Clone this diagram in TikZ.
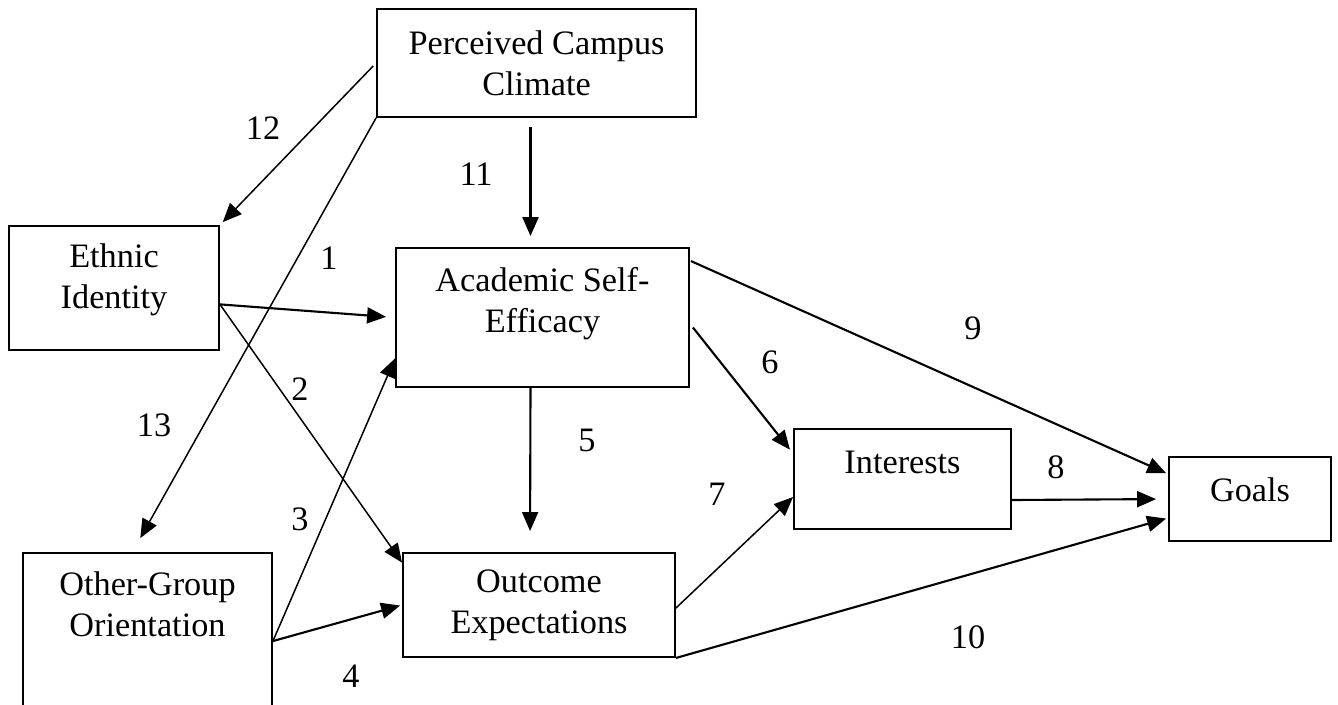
\documentclass[tikz,border=0pt]{standalone}
\usepackage{fontspec}
\setmainfont{Liberation Serif}
\usetikzlibrary{arrows.meta, positioning, calc}

\begin{document}
\begin{tikzpicture}[
    x=0.02cm, y=-0.02cm,
    var/.style={rectangle, draw=black, line width=1.1pt, align=center, inner sep=2pt, font=\fontsize{19.5}{23.3}\selectfont},
    num/.style={inner sep=0pt, font=\fontsize{19.5}{23.3}\selectfont},
    arr/.style={-{Triangle[length=0.38cm, width=0.32cm]}, line width=1.2pt},
    arr_thin/.style={-{Triangle[length=0.38cm, width=0.32cm]}, line width=0.85pt}
]
    % page frame
    \clip (0,0) rectangle (1338,704);

    % variables
    \node[var, minimum width=6.38cm, minimum height=2.16cm] (pcc) at (536.5,63) {Perceived Campus\\Climate};
    \node[var, minimum width=4.2cm, minimum height=2.48cm, text depth=0.47cm] (eid) at (114,288) {Ethnic\\Identity};
    \node[var, minimum width=5.86cm, minimum height=2.78cm, text depth=0.71cm] (ase) at (542.5,317.5) {Academic Self-\\Efficacy};
    \node[var, minimum width=4.98cm, minimum height=4.14cm, text depth=2.1cm] (ogo) at (147.5,656.5) {Other-Group\\Orientation};
    \node[var, minimum width=5.44cm, minimum height=2.08cm] (oe) at (539,605) {Outcome\\Expectations};
    \node[var, minimum width=4.34cm, minimum height=2.0cm, text depth=0.68cm] (int) at (902.5,479) {Interests};
    \node[var, minimum width=3.24cm, minimum height=1.68cm, text depth=0.36cm] (goals) at (1250,499) {Goals};

    % path numbers
    \node[num] (n1) at (329,258) {1};
    \node[num] (n2) at (300,389) {2};
    \node[num] (n3) at (300,519) {3};
    \node[num] (n4) at (351,676) {4};
    \node[num] (n5) at (587,440) {5};
    \node[num] (n6) at (770,362) {6};
    \node[num] (n7) at (717,494) {7};
    \node[num] (n8) at (1056,467) {8};
    \node[num] (n9) at (973,328) {9};
    \node[num] (n10) at (968,637) {10};
    \node[num] (n11) at (476,174) {11};
    \node[num] (n12) at (263,128) {12};
    \node[num] (n13) at (154,425) {13};

    \coordinate (eidout) at ($(eid.north east)!0.63!(eid.south east)$);
    \coordinate (ogoout) at ($(ogo.north east)+(0,89)$);

    % campus climate paths
    \draw[arr_thin, shorten <=0.08cm, shorten >=0.08cm] (pcc.west) -- (eid.north east);
    \draw[arr_thin, shorten >=0.32cm] (pcc.south west) -- ($(ogo.north west)!0.44!(ogo.north east)$);
    \draw[arr, shorten <=0.18cm, shorten >=0.22cm] ($(pcc.south)+(-6,0)$) -- ($(ase.north)+(-12,0)$);

    % ethnic identity and other-group orientation
    \draw[arr, shorten >=0.18cm] (eidout) -- (ase.west);
    \draw[arr_thin] (eidout) -- ($(oe.north west)!0.1!(oe.south west)$);
    \draw[arr_thin] (ogoout) -- ($(ase.north west)!0.79!(ase.south west)$);
    \draw[arr, shorten >=0.04cm] (ogoout) -- (oe.west);

    % social cognitive paths
    \draw[arr, shorten >=0.42cm] ($(ase.south)+(-12,0)$) -- ($(oe.north)+(-9,0)$);
    \draw[arr, shorten >=0.1cm] ($(ase.east)+(3,10)$) -- ($(int.north west)!0.25!(int.south west)$);
    \draw[arr_thin] ($(oe.east)+(0,3)$) -- ($(int.west)+(0,18)$);
    \draw[arr, shorten >=0.24cm] ($(int.east)+(0,21)$) -- (goals.west);
    \draw[arr, shorten >=0.04cm] ($(ase.north east)+(1,14)$) -- ($(goals.north west)+(0,18)$);
    \draw[arr, shorten >=0.04cm] (oe.south east) -- ($(goals.west)+(0,19)$);
\end{tikzpicture}
\end{document}
